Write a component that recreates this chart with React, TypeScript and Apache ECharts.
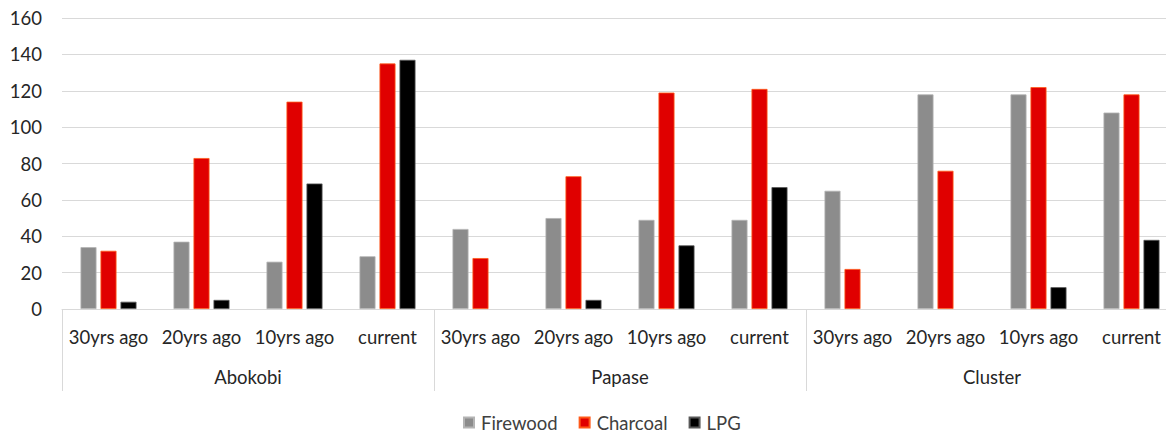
import React, { useEffect, useRef } from "react";
import * as echarts from "echarts";

const periods = ["30yrs ago", "20yrs ago", "10yrs ago", "current"];
const places = ["Abokobi", "Papase", "Cluster"];
const categories = places.flatMap((p) => periods.map((t) => p + "|" + t));
const firewood = [34, 37, 26, 29, 44, 50, 49, 49, 65, 118, 118, 108];
const charcoal = [32, 83, 114, 135, 28, 73, 119, 121, 22, 76, 122, 118];
const lpg = [4, 5, 69, 137, 0, 5, 35, 67, 0, 0, 12, 38];
const yTicks = { min: 0, max: 160, interval: 20 };

const FONT = "Lato, 'Open Sans', sans-serif";
const FS = 18.5;

export default function App() {
  const ref = useRef<HTMLDivElement>(null);
  useEffect(() => {
    const chart = echarts.init(ref.current!, null, { renderer: "svg" });
    const mk = (name: string, data: number[], color: string, border: string) => ({
      name,
      type: "bar",
      data: data.map((v) => (v === 0 ? null : v)),
      barWidth: 16,
      barGap: "25%",
      itemStyle: { color, borderColor: border, borderWidth: 0.8 },
    });
    chart.setOption({
      animation: false,
      textStyle: { fontFamily: FONT },
      grid: { left: 62, right: 0, top: 18, bottom: 124 },
      legend: {
        left: 463,
        top: 413,
        padding: 0,
        icon: "rect",
        itemWidth: 10,
        itemHeight: 10,
        itemGap: 21,
        textStyle: { fontSize: FS, lineHeight: 19, color: "#404040", fontFamily: FONT, padding: [0, 0, 0, 2] },
        data: ["Firewood", "Charcoal", "LPG"],
      },
      xAxis: [
        {
          type: "category",
          data: categories,
          axisLine: { lineStyle: { color: "#d9d9d9", width: 1 } },
          axisTick: {
            show: true,
            length: 82,
            interval: (i: number) => i % 4 === 0,
            lineStyle: { color: "#d9d9d9" },
          },
          axisLabel: {
            interval: 0,
            margin: 18,
            fontSize: FS,
            color: "#262626",
            fontFamily: FONT,
            formatter: (v: string) => v.split("|")[1],
          },
        },
        {
          type: "category",
          data: places,
          position: "bottom",
          offset: 40,
          axisLine: { show: false },
          axisTick: { show: false },
          axisLabel: {
            interval: 0,
            margin: 18,
            fontSize: FS,
            color: "#262626",
            fontFamily: FONT,
          },
        },
      ],
      yAxis: {
        type: "value",
        ...yTicks,
        axisLine: { show: false },
        axisTick: { show: false },
        splitLine: { lineStyle: { color: "#d9d9d9", width: 1 } },
        axisLabel: { margin: 20, fontSize: FS, color: "#262626", fontFamily: FONT },
      },
      series: [
        mk("Firewood", firewood, "#8c8c8c", "#b4b4b4"),
        mk("Charcoal", charcoal, "#e00000", "#ff5a1a"),
        mk("LPG", lpg, "#000000", "#595959"),
      ],
    });
    return () => chart.dispose();
  }, []);
  return (
    <div style={{ position: "absolute", left: 0, top: 0, width: 1166, height: 433, overflow: "hidden" }}>
      <div ref={ref} style={{ width: 1178, height: 433 }} />
    </div>
  );
}
